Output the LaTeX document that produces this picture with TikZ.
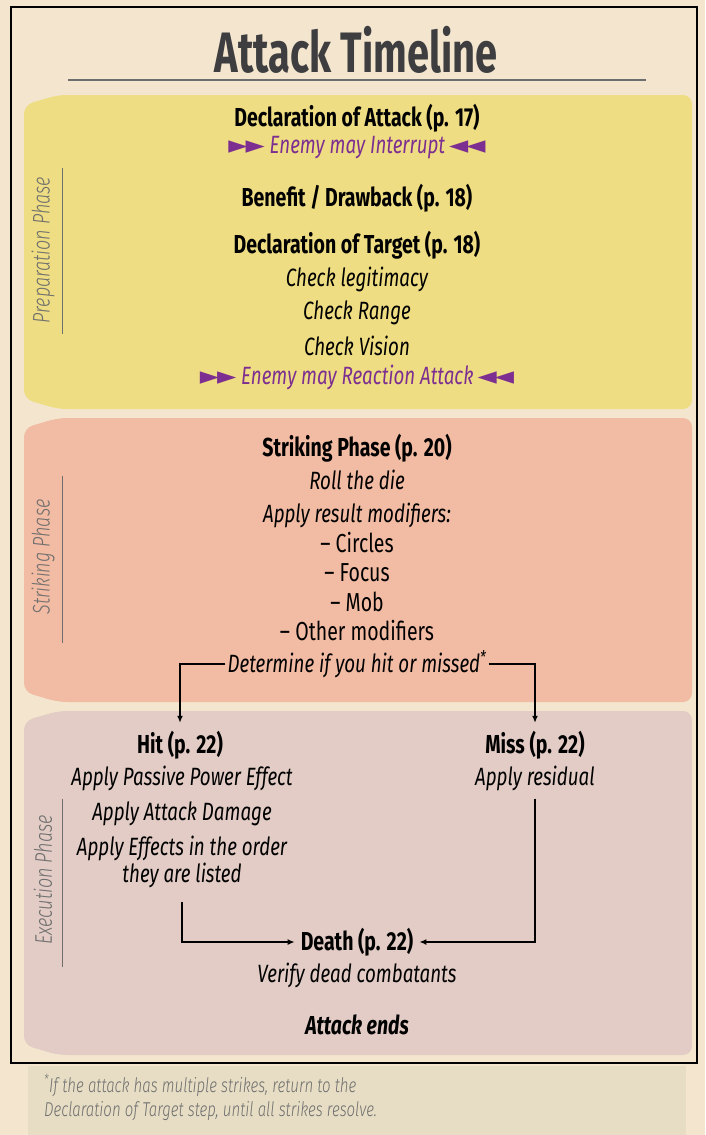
\documentclass[tikz,border=0pt]{standalone}
\usepackage{fontspec}
\setmainfont{Fira Sans}[FakeStretch=0.75]
\newfontfamily\titlefont{Fira Sans}[FakeStretch=0.7]
\newfontfamily\lightfont{Fira Sans Light}[FakeStretch=0.75]
\newfontfamily\symfont{DejaVu Sans}
\usetikzlibrary{arrows.meta}

\definecolor{parchment}{HTML}{F4E6CE}
\definecolor{prepfill}{HTML}{EEDD82}
\definecolor{strikefill}{HTML}{F2BBA3}
\definecolor{execfill}{HTML}{E2CCC5}
\definecolor{notefill}{HTML}{E6DDC4}
\definecolor{interrupt}{HTML}{7D2E91}
\definecolor{phasegray}{HTML}{6E6E6E}
\definecolor{titlegray}{HTML}{3E3E40}

% purple pointers around the interrupt lines
\newcommand\pointsin{{\symfont\fontsize{25}{25}\selectfont ►\kern-2pt►}}
\newcommand\pointsout{{\symfont\fontsize{25}{25}\selectfont ◄\kern-2pt◄}}

% one coloured band: top, bottom, colour
\newcommand\phaseband[3]{%
  \fill[#3, rounded corners=9pt] (24,#1+10) -- (58,#1) -- (692,#1)
    -- (692,#2) -- (58,#2) -- (24,#2-10) -- cycle;}

\tikzset{
  heading/.style={font=\fontsize{26}{30}\selectfont\bfseries, inner sep=2pt},
  detail/.style={font=\fontsize{25}{27}\selectfont\itshape, align=center, inner sep=2pt},
  listitem/.style={font=\fontsize{26}{30}\selectfont, inner sep=2pt},
  warn/.style={detail, text=interrupt},
  phase/.style={rotate=90, font=\lightfont\fontsize{24}{26}\selectfont\itshape, text=phasegray},
  phaseline/.style={phasegray, line width=0.9pt},
  arr/.style={-{Latex[length=7pt,width=6pt]}, line width=1.3pt},
}

\begin{document}
\begin{tikzpicture}[x=1pt, y=-1pt]
\useasboundingbox (0,0) rectangle (705,1135);
\fill[parchment] (0,0) rectangle (705,1135);

% frame and heading
\draw[line width=1.6pt] (11,7) rectangle (697,1063);
\node[text=titlegray, font=\titlefont\fontsize{57}{57}\selectfont\bfseries] (title) at (356,50) {Attack Timeline};
\draw[phasegray, line width=1.3pt] (68,80) -- (646,80);

\phaseband{95}{409}{prepfill}
\phaseband{418}{702}{strikefill}
\phaseband{711}{1055}{execfill}
\fill[notefill] (28,1066) rectangle (686,1135);

% phase names down the left side
\node[phase] (prep) at (43,250) {Preparation Phase};
\draw[phaseline] (62,168) -- (62,334);
\node[phase] (strike) at (43,557) {Striking Phase};
\draw[phaseline] (62,476) -- (62,643);
\node[phase] (exec) at (43,880) {Execution Phase};
\draw[phaseline] (62,799) -- (62,967);

% preparation
\node[heading] (declatt) at (357,118) {Declaration of Attack (p. 17)};
\node[warn] (interrupt) at (357,148) {\pointsin\ Enemy may Interrupt\,\pointsout};
\node[heading] (benefit) at (357,198) {Benefit / Drawback (p. 18)};
\node[heading] (decltgt) at (357,245) {Declaration of Target (p. 18)};
\node[detail] (legit) at (357,279) {Check legitimacy};
\node[detail] (range) at (357,313) {Check Range};
\node[detail] (vision) at (357,346) {Check Vision};
\node[warn] (reaction) at (357,377) {\pointsin\ Enemy may Reaction Attack\,\pointsout};

% striking
\node[heading] (striking) at (357,448) {Striking Phase (p. 20)};
\node[detail] (roll) at (357,480) {Roll the die};
\node[detail] (modifiers) at (357,515) {Apply result modifiers:};
\node[listitem] (circles) at (357,543) {-- Circles};
\node[listitem] (focus) at (357,573) {-- Focus};
\node[listitem] (mob) at (357,602) {-- Mob};
\node[listitem] (other) at (357,631) {-- Other modifiers};
\node[detail] (det) at (357,664) {Determine if you hit or missed\textsuperscript{*}};

% execution
\node[heading] (hit) at (180,745) {Hit (p. 22)};
\node[detail] (passive) at (182,778) {Apply Passive Power Effect};
\node[detail] (damage) at (182,814) {Apply Attack Damage};
\node[detail] (effects) at (182,862) {Apply Effects in the order\\they are listed};
\node[heading] (miss) at (535,745) {Miss (p. 22)};
\node[detail] (residual) at (535,778) {Apply residual};
\node[heading] (death) at (357,942) {Death (p. 22)};
\node[detail] (verify) at (357,975) {Verify dead combatants};
\node[heading, font=\fontsize{26}{30}\selectfont\bfseries\itshape] (ends) at (357,1025) {Attack ends};

\draw[arr, shorten >=6pt] (det.west) -| (hit.north);
\draw[arr, shorten >=6pt] (det.east) -| (miss.north);
\draw[arr, shorten <=12pt, shorten >=4pt] (effects.south) |- (death.west);
\draw[arr, shorten <=6pt, shorten >=4pt] (residual.south) |- (death.east);

% footnote
\node[anchor=north west, align=left, text=phasegray, inner sep=0pt,
  font=\lightfont\fontsize{20}{24}\selectfont\itshape] (note) at (44,1074)
  {\textsuperscript{*}If the attack has multiple strikes, return to the\\
   Declaration of Target step, until all strikes resolve.};
\end{tikzpicture}
\end{document}
